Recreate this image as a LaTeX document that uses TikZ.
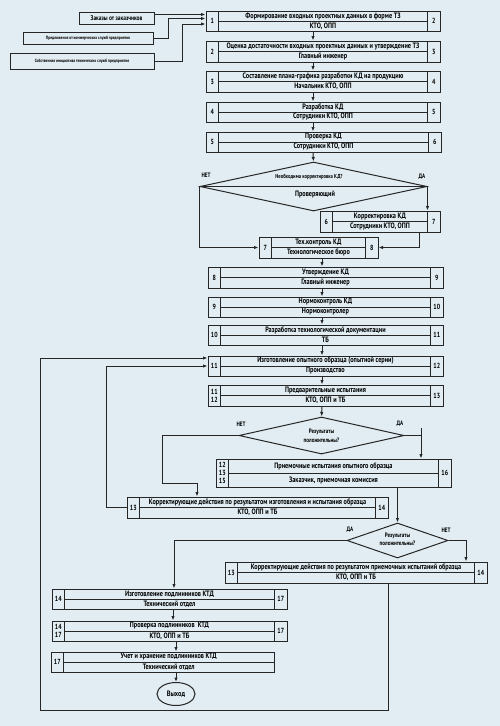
\documentclass[tikz,border=0pt]{standalone}
\usepackage{fontspec}
\setmainfont{PT Sans}[FakeStretch=0.8]
\usetikzlibrary{arrows.meta,calc,fit,shapes.geometric}
\definecolor{paper}{HTML}{E1EDF2}
\definecolor{ink}{HTML}{262626}

% box: name, x1, y1, x2, y2, left numbers, title, who, right numbers
\newcommand\stagebox[9]{%
  \node[stage,fit={(#2,#3)(#4,#5)}] (#1) {};
  \if\relax\detokenize{#9}\relax
    \coordinate (#1-r) at (#4,#3);
  \else
    \coordinate (#1-r) at ({#4-12.5},#3);
    \draw[rule] (#1-r) -- (#1-r |- #1.south);
    \node[num] (#1-rn) at ({#4-6.25},{(#3+#5)/2}) {#9};
  \fi
  \coordinate (#1-l) at ({#2+12.5},#3);
  \draw[rule] (#1-l) -- (#1-l |- #1.south);
  \draw[rule] (#1-l |- #1.center) -- (#1-r |- #1.center);
  \node[num] (#1-ln) at ({#2+6.25},{(#3+#5)/2}) {#6};
  \node[txt] (#1-t) at ($(#1-l)!.5!(#1-r)+(0,{(#5-#3)/4})$) {#7};
  \node[txt] (#1-w) at ($(#1-l)!.5!(#1-r)+(0,{3*(#5-#3)/4})$) {#8};
}

\begin{document}
\begin{tikzpicture}[x=1pt,y=-1pt,line width=1pt,color=ink,
 stage/.style={draw=ink,fill=paper,inner sep=0pt},
 rule/.style={draw=ink,line width=.8pt},
 num/.style={text=black,font=\bfseries\fontsize{7.4}{8.2}\selectfont,align=center,inner sep=0pt},
 txt/.style={text=black,font=\bfseries\fontsize{7.8}{8}\selectfont,inner sep=0pt},
 source/.style={draw=ink,fill=paper,inner sep=0pt},
 tiny/.style={text=black,font=\bfseries\fontsize{4.6}{6}\selectfont,inner sep=0pt},
 query/.style={diamond,draw=ink,fill=paper,inner sep=0pt},
 qtxt/.style={text=black,font=\bfseries\fontsize{6.4}{8.5}\selectfont,align=center,inner sep=0pt},
 yesno/.style={text=black,font=\bfseries\fontsize{6.4}{7}\selectfont,inner sep=0pt},
 arr/.style={draw=ink,-{Latex[length=4.5pt,width=3.4pt]}}]
\path[use as bounding box,fill=paper] (0,0) rectangle (500,726);
\coordinate (axisA) at (313,0);
\coordinate (axisB) at (322,0);
\coordinate (axisC) at (173,0);
\coordinate (axisD) at (176,0);

% sources
\node[source,fit={(79,12)(154,24)}] (zak) {};
\node[txt,font=\bfseries\fontsize{6.8}{8}\selectfont] (zak-t) at (zak.center) {Заказы от заказчиков};
\node[source,fit={(23,32)(153,44)}] (offer) {};
\node[tiny] (offer-t) at (offer.center) {Предложения от коммерческих служб предприятия};
\node[source,fit={(10,53)(154,69)}] (own) {};
\node[tiny] (own-t) at (own.center) {Собственная инициатива технических служб предприятия};

% stages
\stagebox{tz}{206}{11}{440}{31}{1}{Формирование входных проектных данных в форме ТЗ}{КТО, ОПП}{2}
\stagebox{suff}{206}{41}{440}{62}{2}{Оценка достаточности входных проектных данных и утверждение ТЗ}{Главный инженер}{3}
\stagebox{plan}{206}{71}{440}{92}{3}{Составление плана-графика разработки КД на продукцию}{Начальник КТО, ОПП}{4}
\stagebox{dev}{206}{102}{440}{122}{4}{Разработка КД}{Сотрудники КТО, ОПП}{5}
\stagebox{check}{206}{132}{441}{152}{5}{Проверка КД}{Сотрудники КТО, ОПП}{6}

\node[query,minimum width=227,minimum height=49] (dq) at (313.5,186.5) {};
\draw[rule] (dq.west) -- (dq.east);
\node[tiny,font=\bfseries\fontsize{5.8}{6}\selectfont] (dq-t) at (309,177) {Необходима корректировка КД?};
\node[txt] (dq-w) at (315,195) {Проверяющий};
\node[yesno] (dq-no) at (206,175) {НЕТ};
\node[yesno] (dq-yes) at (422,177) {ДА};

\stagebox{corr}{320}{211}{440}{232}{6}{Корректировка КД}{Сотрудники КТО, ОПП}{7}
\stagebox{tech}{259}{237}{378}{258}{7}{Тех.контроль КД}{Технологическое бюро}{8}
\stagebox{appr}{208}{267}{443}{288}{8}{Утверждение КД}{Главный инженер}{9}
\stagebox{norm}{208}{297}{443}{317}{9}{Нормоконтроль КД}{Нормоконтролер}{10}
\stagebox{techdoc}{208}{325}{443}{345}{10}{Разработка технологической документации}{ТБ}{11}
\stagebox{proto}{208}{356}{443}{376}{11}{Изготовление опытного образца (опытной серии)}{Производство}{12}
\stagebox{pretest}{208}{385}{443}{406}{11\\12}{Предварительные испытания}{КТО, ОПП и ТБ}{13}

\node[query,minimum width=165,minimum height=37] (dres1) at (321.5,435.5) {};
\node[qtxt] (dres1-t) at (321.5,436) {Результаты\\положительны?};
\node[yesno] (dres1-no) at (241,424) {НЕТ};
\node[yesno] (dres1-yes) at (400,424) {ДА};

\stagebox{accept}{216}{459}{451}{487}{12\\13\\15}{Приемочные испытания опытного образца}{Заказчик, приемочная комиссия}{16}
\stagebox{fix1}{127}{497}{388}{518}{13}{Корректирующие действия по результатом изготовления и испытания образца}{КТО, ОПП и ТБ}{14}

\node[query,minimum width=101,minimum height=35] (dres2) at (397.5,540.5) {};
\node[qtxt] (dres2-t) at (397.5,539.5) {Результаты\\положительны?};
\node[yesno] (dres2-yes) at (350,530) {ДА};
\node[yesno] (dres2-no) at (446,530) {НЕТ};

\stagebox{fix2}{225}{562}{487}{583}{13}{Корректирующие действия по результатом приемочных испытаний образца}{КТО, ОПП и ТБ}{14}
\stagebox{orig}{52}{589}{287}{609}{14}{Изготовление подлинников КТД}{Технический отдел}{17}
\stagebox{origchk}{52}{621}{287}{641}{14\\17}{Проверка подлинников\ \ КТД}{КТО, ОПП и ТБ}{17}
\stagebox{store}{51}{652}{274}{672}{17}{Учет и хранение подлинников КТД}{Технический отдел}{}

\node[ellipse,draw=ink,fill=paper,minimum width=38,minimum height=23,inner sep=0pt,txt] (exit) at (176,694) {Выход};

% connectors
\draw[arr] ([yshift=3.5pt]zak.east) -- ([yshift=3.5pt]zak.east -| tz.west);
\draw[arr] (offer.east) -- ++(15,0) |- ([yshift=2.5pt]tz.west);
\draw[arr] (own.east) -- ++(28,0) |- ([yshift=-3pt]tz.west);
\foreach \a/\b in {tz/suff,suff/plan,plan/dev,dev/check}
  \draw[arr] (\a.south -| axisA) -- (\b.north -| axisA);
\draw[arr] (check.south -| axisA) -- (dq.north);
\draw[arr] (dq.east) -- (dq.east |- corr.north);
\draw[arr] (dq.west) |- (tech.west);
\draw[arr] ($(corr.south east)+(-21,0)$) |- (tech.east);
\foreach \a/\b in {tech/appr,appr/norm,norm/techdoc,techdoc/proto,proto/pretest}
  \draw[arr] (\a.south -| axisB) -- (\b.north -| axisB);
\draw[arr] (pretest.south -| axisB) -- (dres1.north);
\coordinate (yesA) at (421,428);
\draw (dres1.east) -- (dres1.east -| yesA);
\draw[arr] (yesA) -- (yesA |- accept.north);
\coordinate (noA) at (162,483);
\draw[arr] (dres1.west) -| (noA) -| ([xshift=-60.5pt]fix1.north);
\draw[arr] (fix1.west) -- ++(-20,0) |- (proto.west);
\draw[arr] (accept.south -| dres2.north) -- (dres2.north);
\draw[arr] (dres2.west) -| ([xshift=4.5pt]orig.north);
\draw[arr] (dres2.east) -| ([xshift=110pt]fix2.north);
\coordinate (back) at (40,710);
\draw[arr] ([xshift=32pt]fix2.south) |- (back) |- ([yshift=8pt]proto.west);
\draw[arr] (orig.south -| axisC) -- (origchk.north -| axisC);
\draw[arr] (origchk.south -| axisD) -- (store.north -| axisD);
\draw[arr] (store.south -| axisD) -- (exit.north);
\end{tikzpicture}
\end{document}
